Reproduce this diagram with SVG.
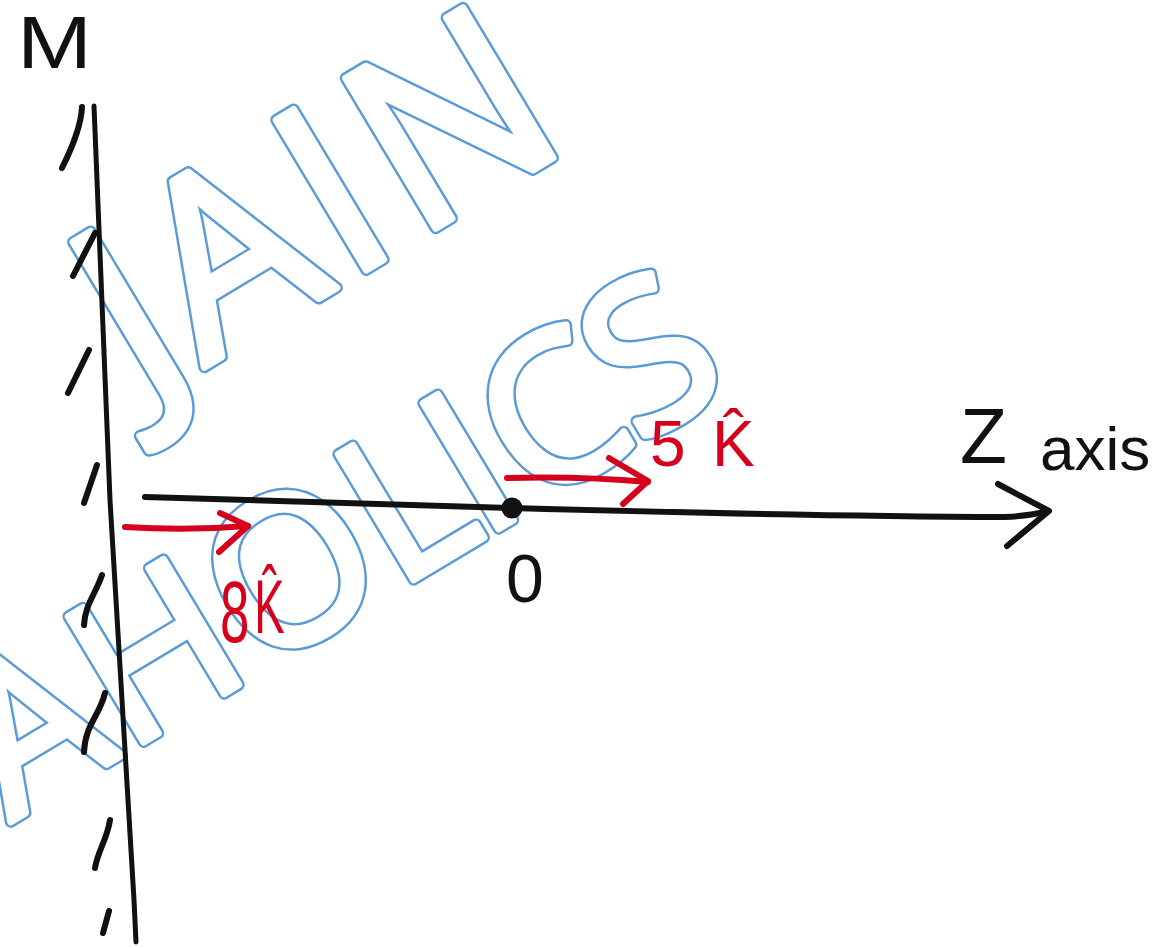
<svg xmlns="http://www.w3.org/2000/svg" xmlns:xlink="http://www.w3.org/1999/xlink" width="1168" height="948" viewBox="0 0 1168 948">
<style>
.ink{fill:none;stroke:#111;stroke-width:6;stroke-linecap:round;stroke-linejoin:round}
.thin{stroke-width:5}
.red{fill:none;stroke:#d7001c;stroke-width:6;stroke-linecap:round;stroke-linejoin:round}
.hand{font-family:"Liberation Sans",Arial,sans-serif;fill:#111}
.redt{font-family:"Liberation Sans",Arial,sans-serif;fill:#d7001c}
.wmtext{font-family:"Open Sans","Noto Sans",sans-serif;font-weight:400}
.wmA{fill:#5b9bd5;stroke:#5b9bd5;stroke-width:12;stroke-linejoin:round}
.wmB{fill:#ffffff;stroke:#ffffff;stroke-width:7;stroke-linejoin:round}
</style>
<defs>
  <g id="wmText" class="wmtext">
    <text font-size="245" x="-85 -14 151 232" y="0">JAIN</text>
    <text font-size="205" x="-414 -279 -125 36 135 195 318" y="290">AHOLICS</text>
  </g>
</defs>
<rect width="1168" height="948" fill="#ffffff"/>

<g id="watermark" transform="translate(216.3,360) rotate(-31)">
  <use xlink:href="#wmText" href="#wmText" class="wmA"/>
  <use xlink:href="#wmText" href="#wmText" class="wmB"/>
</g>

<g id="wall">
  <path class="ink thin" d="M94,106 L110,500 L134,900 L136,942"/>
  <path class="ink" d="M82,107 Q81,130 62,168"/>
  <path class="ink" d="M95,233 L73,276"/>
  <path class="ink" d="M89,350 L68,393"/>
  <path class="ink" d="M97,465 L84,503"/>
  <path class="ink" d="M102,575 C95,595 85,605 84,625"/>
  <path class="ink" d="M105,693 C100,715 85,725 84,752"/>
  <path class="ink" d="M110,820 C107,840 98,850 95,868"/>
  <path class="ink" d="M109,911 L103,933"/>
</g>

<g id="label-M">
  <text class="hand" font-size="75" transform="translate(17,68) scale(1.2,1)">M</text>
</g>

<g id="origin">
  <circle cx="512" cy="508" r="10.5" fill="#111"/>
  <text class="hand" x="506" y="602" font-size="68">0</text>
</g>

<g id="label-z-axis">
  <text class="hand" x="960" y="463" font-size="77">Z <tspan x="1040" y="470" font-size="62">axis</tspan></text>
</g>

<g id="connectors">
  <path class="ink" d="M145,497 Q330,502 512,508 Q800,516 1005,517 Q1030,516 1048,511"/>
  <path class="ink" d="M998,484 L1049,511 L1007,546"/>
  <path class="red" d="M125,527 Q187,531 248,526"/>
  <path class="red" d="M220,513 L248,526 L219,552"/>
  <path class="red" d="M507,478 Q580,476 648,482"/>
  <path class="red" d="M609,458 L648,481 L623,504"/>
</g>

<g id="label-8k">
  <text class="redt" font-size="88" transform="translate(220,642) scale(0.6,1)">8<tspan x="57" y="-9" font-size="76">K̂</tspan></text>
</g>

<g id="label-5k">
  <text class="redt" font-size="64" x="650" y="466">5<tspan x="712">K̂</tspan></text>
</g>
</svg>
